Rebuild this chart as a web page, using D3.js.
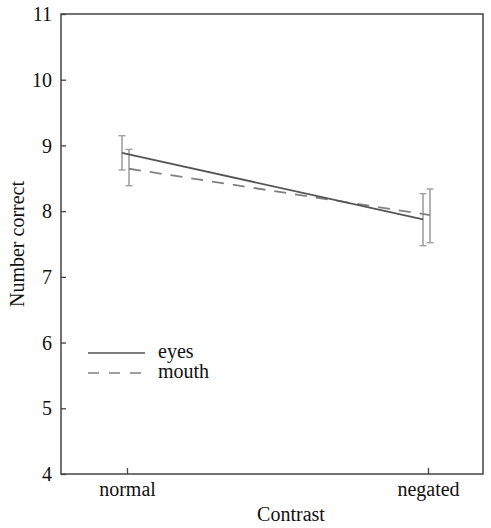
<!doctype html>
<html lang="en">
<head>
<meta charset="UTF-8">
<title>Number correct by contrast</title>
<style>
  html, body { margin: 0; padding: 0; background: #fff; }
  svg { display: block; font-family: 'Liberation Serif', 'Times New Roman', Times, Tinos, 'Noto Serif', 'DejaVu Serif', serif; }
</style>
</head>
<body>
<svg width="491" height="528"></svg>
<script src="https://d3js.org/d3.v7.min.js"></script>
<script>
  const conditions = ['normal', 'negated']
  const eyesMean = [8.885, 7.876]
  const eyesLow = [8.626, 7.474]
  const eyesHigh = [9.148, 8.266]
  const mouthMean = [8.645, 7.94]
  const mouthLow = [8.387, 7.52]
  const mouthHigh = [8.94, 8.337]
  const yTicks = [4, 5, 6, 7, 8, 9, 10, 11]

  const series = [
    { name: 'eyes', mean: eyesMean, low: eyesLow, high: eyesHigh, dodge: -5, color: '#555', dash: null },
    { name: 'mouth', mean: mouthMean, low: mouthLow, high: mouthHigh, dodge: 2, color: '#808080', dash: '12,9' }
  ]

  const font = "'Liberation Serif', 'Times New Roman', Times, Tinos, 'Noto Serif', 'DejaVu Serif', serif"
  const fs = 20
  const svg = d3.select('svg')
  const m = { left: 61, right: 483, top: 14, bottom: 474 }

  const x = d3.scalePoint().domain(conditions).range([127, 428])
  const y = d3.scaleLinear().domain([4, 11]).range([m.bottom, m.top])

  // frame
  svg.append('rect')
    .attr('x', m.left).attr('y', m.top)
    .attr('width', m.right - m.left).attr('height', m.bottom - m.top)
    .attr('fill', 'none').attr('stroke', '#444').attr('stroke-width', 1.5)

  // y axis
  const yAxis = svg.append('g')
    .attr('transform', `translate(${m.left},0)`)
    .call(d3.axisRight(y).tickValues(yTicks).tickSize(5).tickFormat(d3.format('d')))
    .attr('font-family', null)
  yAxis.select('.domain').remove()
  yAxis.selectAll('line').attr('stroke', '#444').attr('stroke-width', 1.3)
  yAxis.selectAll('text')
    .attr('x', -9).attr('dy', '0.33em').attr('text-anchor', 'end')
    .attr('font-size', fs).attr('fill', '#111')

  // x axis
  const xAxis = svg.append('g')
    .attr('transform', `translate(0,${m.bottom})`)
    .call(d3.axisTop(x).tickSize(6))
    .attr('font-family', null)
  xAxis.select('.domain').remove()
  xAxis.selectAll('line').attr('stroke', '#444').attr('stroke-width', 1.3)
  xAxis.selectAll('text')
    .attr('y', 22).attr('dy', 0)
    .attr('font-size', fs).attr('fill', '#111')

  svg.selectAll('text').style('font-family', font)

  svg.append('text')
    .attr('x', 291).attr('y', 521)
    .attr('text-anchor', 'middle').attr('font-size', fs).attr('fill', '#111')
    .style('font-family', font)
    .text('Contrast')

  svg.append('text')
    .attr('transform', 'translate(24,244) rotate(-90)')
    .attr('text-anchor', 'middle').attr('font-size', fs).attr('fill', '#111')
    .style('font-family', font)
    .text('Number correct')

  const px = (s, i) => x(conditions[i]) + s.dodge

  // error bars
  series.forEach(s => {
    const g = svg.append('g')
    conditions.forEach((c, i) => {
      const cx = px(s, i)
      g.append('line')
        .attr('x1', cx).attr('x2', cx)
        .attr('y1', y(s.low[i])).attr('y2', y(s.high[i]))
        .attr('stroke', '#a0a0a0').attr('stroke-width', 1.6)
      ;[s.low[i], s.high[i]].forEach(v => {
        g.append('line')
          .attr('x1', cx - 3.5).attr('x2', cx + 3.5)
          .attr('y1', y(v)).attr('y2', y(v))
          .attr('stroke', '#a0a0a0').attr('stroke-width', 1.4)
      })
    })
  })

  // lines
  const line = d3.line()
  series.slice().reverse().forEach(s => {
    svg.append('path')
      .attr('d', line(conditions.map((c, i) => [px(s, i), y(s.mean[i])])))
      .attr('fill', 'none')
      .attr('stroke', s.color)
      .attr('stroke-width', 1.8)
      .attr('stroke-dasharray', s.dash)
  })

  // legend
  const legend = svg.append('g').attr('transform', 'translate(88,353)')
  series.forEach((s, i) => {
    legend.append('line')
      .attr('x1', 0).attr('x2', 57)
      .attr('y1', i * 20).attr('y2', i * 20)
      .attr('stroke', s.color).attr('stroke-width', 1.6)
      .attr('stroke-dasharray', s.dash ? '11,10' : null)
    legend.append('text')
      .attr('x', 70).attr('y', i * 20 + 5)
      .attr('font-size', fs).attr('fill', '#111')
      .style('font-family', font)
      .text(s.name)
  })
</script>
</body>
</html>
